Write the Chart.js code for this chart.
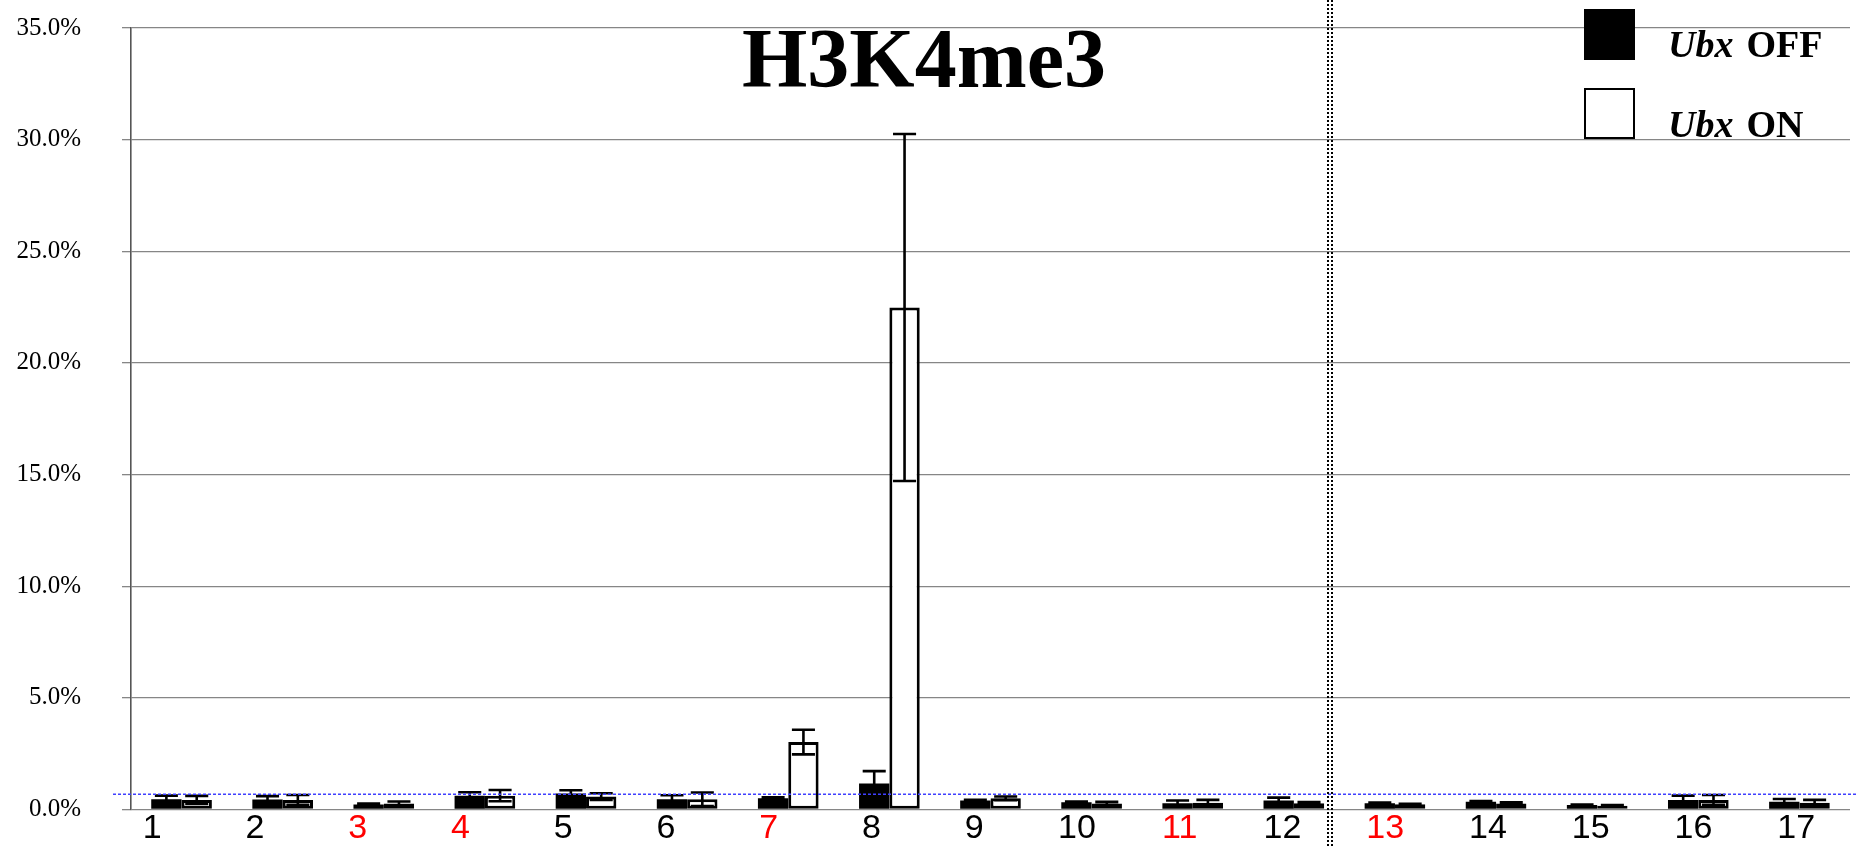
<!DOCTYPE html>
<html><head><meta charset="utf-8">
<script src="https://cdn.jsdelivr.net/npm/chart.js@4.4.1/dist/chart.umd.min.js"></script>
<style>html,body{margin:0;padding:0;background:#fff;overflow:hidden}#wrap{width:1858px;height:846px}</style>
</head><body><div id="wrap"><canvas id="c" width="1858" height="846"></canvas></div>
<script>
// ---- data ----
const categories = ['1','2','3','4','5','6','7','8','9','10','11','12','13','14','15','16','17'];
const redCategories = ['3','4','7','11','13'];
const ubxOffMean = [0.46, 0.45, 0.22, 0.62, 0.72, 0.46, 0.50, 1.17, 0.40, 0.33, 0.28, 0.40, 0.28, 0.35, 0.20, 0.43, 0.35];
const ubxOffErr  = [0.16, 0.15, 0.05, 0.15, 0.14, 0.18, 0.05, 0.55, 0.03, 0.03, 0.12, 0.13, 0.03, 0.03, 0.02, 0.19, 0.12];
const ubxOnMean  = [0.43, 0.43, 0.27, 0.62, 0.58, 0.46, 3.02, 22.48, 0.50, 0.27, 0.30, 0.28, 0.23, 0.27, 0.17, 0.43, 0.30];
const ubxOnErr   = [0.18, 0.22, 0.09, 0.25, 0.15, 0.30, 0.55, 7.77, 0.08, 0.07, 0.13, 0.05, 0.03, 0.05, 0.03, 0.22, 0.13];
const yTickValues = [0, 5, 10, 15, 20, 25, 30, 35];
const thresholdValue = 0.68;          // blue dotted reference line (%)
const separatorIndex = 11.36;         // dotted separator between 12 and 13 (category units)
const chartTitle = 'H3K4me3';
const seriesGene = ['Ubx', 'Ubx'];
const seriesState = ['OFF', 'ON'];

const errors = [ubxOffErr, ubxOnErr];

const errorBarPlugin = {
  id: 'errorBars',
  afterDatasetsDraw(chart) {
    const ctx = chart.ctx, y = chart.scales.y;
    ctx.save();
    ctx.strokeStyle = '#000';
    ctx.lineWidth = 2.6;
    chart.data.datasets.forEach((ds, di) => {
      const meta = chart.getDatasetMeta(di);
      meta.data.forEach((bar, i) => {
        const v = ds.data[i], e = errors[di][i];
        const yt = y.getPixelForValue(v + e), yb = y.getPixelForValue(v - e);
        const half = bar.width * 0.38;
        ctx.beginPath();
        ctx.moveTo(bar.x, yt); ctx.lineTo(bar.x, yb);
        ctx.moveTo(bar.x - half, yt); ctx.lineTo(bar.x + half, yt);
        ctx.moveTo(bar.x - half, yb); ctx.lineTo(bar.x + half, yb);
        ctx.stroke();
      });
    });
    ctx.restore();
  }
};

const decorPlugin = {
  id: 'decor',
  afterDraw(chart) {
    const ctx = chart.ctx, x = chart.scales.x, y = chart.scales.y;
    ctx.save();
    // blue threshold line
    const ty = y.getPixelForValue(thresholdValue);
    ctx.strokeStyle = '#4040ff';
    ctx.lineWidth = 1.4;
    ctx.setLineDash([3, 2]);
    ctx.beginPath(); ctx.moveTo(chart.chartArea.left - 18, ty); ctx.lineTo(chart.width, ty); ctx.stroke();
    // double dotted separator
    const sx = Math.round(x.getPixelForValue(separatorIndex));
    ctx.strokeStyle = '#000';
    ctx.lineWidth = 2;
    ctx.setLineDash([2, 2]);
    [-2, 2].forEach(dx => {
      ctx.beginPath(); ctx.moveTo(sx + dx, 0); ctx.lineTo(sx + dx, chart.height); ctx.stroke();
    });
    ctx.setLineDash([]);
    // title
    ctx.fillStyle = '#000';
    ctx.font = 'bold 84px "Liberation Serif"';
    ctx.textAlign = 'center';
    ctx.textBaseline = 'alphabetic';
    ctx.fillText(chartTitle, 924, 87);
    // legend
    const boxes = [{y: 10, fill: '#000'}, {y: 89, fill: '#fff'}];
    const baselines = [57, 137];
    boxes.forEach((b, i) => {
      ctx.fillStyle = b.fill;
      ctx.fillRect(1585, b.y, 49, 49);
      ctx.strokeStyle = '#000'; ctx.lineWidth = 2;
      ctx.strokeRect(1585, b.y, 49, 49);
      ctx.fillStyle = '#000';
      ctx.textAlign = 'left';
      ctx.font = 'italic bold 38px "Liberation Serif"';
      ctx.fillText(seriesGene[i], 1668, baselines[i]);
      const w = ctx.measureText(seriesGene[i]).width;
      ctx.font = 'bold 38px "Liberation Serif"';
      ctx.fillText(seriesState[i], 1668 + w + 13, baselines[i]);
    });
    ctx.restore();
  }
};

new Chart(document.getElementById('c'), {
  type: 'bar',
  data: {
    labels: categories,
    datasets: [
      { label: seriesGene[0] + ' ' + seriesState[0], data: ubxOffMean, backgroundColor: '#000', borderColor: '#000', borderWidth: 0 },
      { label: seriesGene[1] + ' ' + seriesState[1], data: ubxOnMean, backgroundColor: '#fff', borderColor: '#000', borderWidth: 3, borderSkipped: false }
    ]
  },
  options: {
    responsive: false,
    devicePixelRatio: 1,
    animation: false,
    categoryPercentage: 0.6,
    barPercentage: 1.0,
    layout: { padding: { left: 0, right: 8, top: 28, bottom: 0 } },
    plugins: { legend: { display: false }, tooltip: { enabled: false }, title: { display: false } },
    scales: {
      x: { display: false },
      xl: {
        type: 'linear',
        position: 'bottom',
        offset: false,
        bounds: 'data',
        min: 0.7937,
        max: 17.524,
        afterBuildTicks: s => { s.ticks = categories.map((c, i) => ({ value: i + 1 })); },
        grid: { display: false, drawTicks: false, offset: false },
        border: { display: false },
        ticks: {
          autoSkip: false,
          maxRotation: 0,
          padding: 2,
          font: { family: '"Liberation Sans"', size: 34, lineHeight: 1 },
          color: c => redCategories.includes(categories[Math.round(c.tick.value) - 1]) ? '#ff0000' : '#000',
          callback: v => categories[Math.round(v) - 1] || ''
        },
        afterFit: s => { s.height = 36.5; s.paddingLeft = 0; s.paddingRight = 0; }
      },
      y: {
        min: yTickValues[0],
        max: yTickValues[yTickValues.length - 1],
        afterBuildTicks: s => { s.ticks = yTickValues.map(v => ({ value: v })); },
        grid: { color: '#868686', lineWidth: 1.3, tickLength: 9, drawTicks: true, tickColor: '#868686' },
        border: { display: true, color: '#555', width: 1.6 },
        ticks: {
          padding: 41,
          color: '#000',
          font: { family: '"Liberation Serif"', size: 25 },
          callback: v => v.toFixed(1) + '%'
        },
        afterFit: s => { s.width = 131; s.paddingTop = 15; s.paddingBottom = 15; }
      }
    }
  },
  plugins: [errorBarPlugin, decorPlugin]
});
</script>
</body></html>
